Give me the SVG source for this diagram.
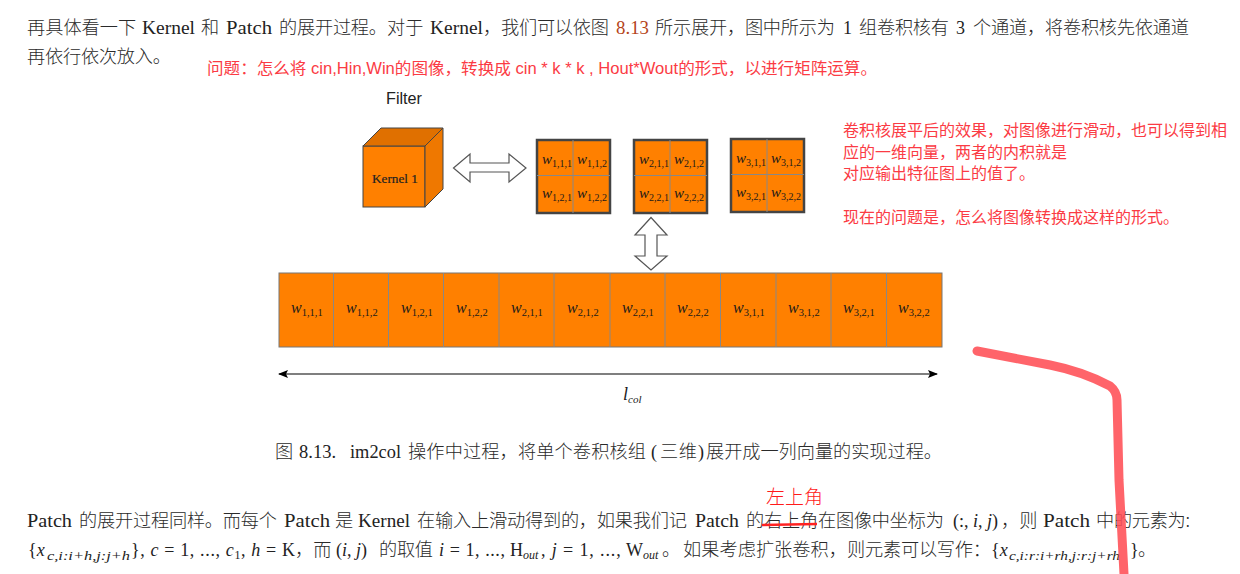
<svg xmlns="http://www.w3.org/2000/svg" width="1240" height="574" viewBox="0 0 1240 574">
<defs>
<marker id="ah" viewBox="0 0 10 8" refX="9" refY="4" markerWidth="10" markerHeight="8" orient="auto-start-reverse" markerUnits="userSpaceOnUse"><path d="M0 0L10 4L0 8L2 4Z" fill="#000"/></marker>
</defs>
<style>
text{white-space:pre}
.b{font-family:"Liberation Serif","Noto Sans CJK SC",serif;font-size:18px;fill:#222}
.c{font-family:"Noto Sans CJK SC",sans-serif;font-size:18.200px;fill:#2a2a2a;font-weight:300}
.i{font-style:italic}
.s{font-size:12px}
.r{font-family:"Liberation Sans","Noto Sans CJK SC",sans-serif;font-size:16px;fill:#fb3b44}
.o{fill:#ff8000;stroke:#777;stroke-width:1}
.g{stroke:#888;stroke-width:1;fill:none}
.m{fill:#ff8000;stroke:#444;stroke-width:2.500}
.w{font-family:"Liberation Serif",serif;fill:#1a1a1a}
.wi{font-size:16px;font-style:italic}
.ws{font-size:10.500px}
.n .wi{font-size:15px}
.n .ws{font-size:10px}
.ar{fill:#fff;stroke:#555;stroke-width:1.200}
</style>
<g id="body-top">
<text class="c" x="27" y="34">再具体看一下</text><text class="b" x="142" y="34" textLength="53" lengthAdjust="spacingAndGlyphs">Kernel</text><text class="c" x="201" y="34">和</text><text class="b" x="226" y="34" textLength="46" lengthAdjust="spacingAndGlyphs">Patch</text><text class="c" x="279" y="34" textLength="108">的展开过程。</text><text class="c" x="387" y="34">对于</text><text class="b" x="430" y="34" textLength="53" lengthAdjust="spacingAndGlyphs">Kernel</text><text class="c" x="483" y="34" textLength="126">，我们可以依图</text><text class="b" x="616" y="34" textLength="33" lengthAdjust="spacingAndGlyphs" style="fill:#b5451b">8.13</text><text class="c" x="655" y="34" textLength="180">所示展开，图中所示为</text><text class="b" x="843" y="34">1</text><text class="c" x="859" y="34" textLength="90">组卷积核有</text><text class="b" x="956" y="34">3</text><text class="c" x="973" y="34" textLength="216">个通道，将卷积核先依通道</text>
<text class="c" x="27" y="63" textLength="144">再依行依次放入。</text>
</g>
<g id="note-top"><text class="r" x="207" y="74" textLength="670" lengthAdjust="spacingAndGlyphs">问题：怎么将 cin,Hin,Win的图像，转换成 cin * k * k , Hout*Wout的形式，以进行矩阵运算。</text></g>
<g id="filter-label"><text x="386" y="104" font-family="Liberation Sans,sans-serif" font-size="16" fill="#222" textLength="36" lengthAdjust="spacingAndGlyphs">Filter</text></g>
<g id="kernel-cube">
<rect class="o" x="363" y="146" width="62" height="61" style="stroke:#444"/>
<path d="M363 146L381 128H443L425 146Z" fill="#e07000" stroke="#444"/>
<path d="M425 146L443 128V189L425 207Z" fill="#ef7800" stroke="#444"/>
<text x="372" y="183" font-family="Liberation Serif,serif" font-size="13.500" fill="#222" textLength="46" lengthAdjust="spacingAndGlyphs" stroke="#222" stroke-width=".2">Kernel 1</text>
</g>
<g id="matrix-1" class="n"><rect class="m" x="537" y="140" width="73" height="73"/><path class="g" d="M573 140V213M537 175.500H610"/>
<text class="w" x="542" y="164"><tspan class="wi">w</tspan><tspan class="ws" dy="3">1,1,1</tspan></text><text class="w" x="577" y="164"><tspan class="wi">w</tspan><tspan class="ws" dy="3">1,1,2</tspan></text><text class="w" x="542" y="198"><tspan class="wi">w</tspan><tspan class="ws" dy="3">1,2,1</tspan></text><text class="w" x="577" y="198"><tspan class="wi">w</tspan><tspan class="ws" dy="3">1,2,2</tspan></text></g>
<g id="matrix-2" class="n"><rect class="m" x="634" y="140" width="73" height="73"/><path class="g" d="M670 140V213M634 175.500H707"/>
<text class="w" x="639" y="164"><tspan class="wi">w</tspan><tspan class="ws" dy="3">2,1,1</tspan></text><text class="w" x="674" y="164"><tspan class="wi">w</tspan><tspan class="ws" dy="3">2,1,2</tspan></text><text class="w" x="639" y="198"><tspan class="wi">w</tspan><tspan class="ws" dy="3">2,2,1</tspan></text><text class="w" x="674" y="198"><tspan class="wi">w</tspan><tspan class="ws" dy="3">2,2,2</tspan></text></g>
<g id="matrix-3" class="n"><rect class="m" x="731" y="139" width="73" height="73"/><path class="g" d="M767 139V212M731 174.500H804"/>
<text class="w" x="736" y="163"><tspan class="wi">w</tspan><tspan class="ws" dy="3">3,1,1</tspan></text><text class="w" x="771" y="163"><tspan class="wi">w</tspan><tspan class="ws" dy="3">3,1,2</tspan></text><text class="w" x="736" y="197"><tspan class="wi">w</tspan><tspan class="ws" dy="3">3,2,1</tspan></text><text class="w" x="771" y="197"><tspan class="wi">w</tspan><tspan class="ws" dy="3">3,2,2</tspan></text></g>
<g id="vector-bar">
<rect class="o" x="279" y="273" width="663" height="74"/>
<path class="g" d="M333.500 273V347M388.500 273V347M443.500 273V347M499 273V347M554 273V347M610 273V347M665 273V347M720.500 273V347M776 273V347M831 273V347M886.500 273V347"/>
<g class="w">
<text x="291" y="313"><tspan class="wi">w</tspan><tspan class="ws" dy="3">1,1,1</tspan></text>
<text x="346" y="313"><tspan class="wi">w</tspan><tspan class="ws" dy="3">1,1,2</tspan></text>
<text x="401" y="313"><tspan class="wi">w</tspan><tspan class="ws" dy="3">1,2,1</tspan></text>
<text x="456" y="313"><tspan class="wi">w</tspan><tspan class="ws" dy="3">1,2,2</tspan></text>
<text x="511" y="313"><tspan class="wi">w</tspan><tspan class="ws" dy="3">2,1,1</tspan></text>
<text x="567" y="313"><tspan class="wi">w</tspan><tspan class="ws" dy="3">2,1,2</tspan></text>
<text x="622" y="313"><tspan class="wi">w</tspan><tspan class="ws" dy="3">2,2,1</tspan></text>
<text x="677" y="313"><tspan class="wi">w</tspan><tspan class="ws" dy="3">2,2,2</tspan></text>
<text x="733" y="313"><tspan class="wi">w</tspan><tspan class="ws" dy="3">3,1,1</tspan></text>
<text x="788" y="313"><tspan class="wi">w</tspan><tspan class="ws" dy="3">3,1,2</tspan></text>
<text x="843" y="313"><tspan class="wi">w</tspan><tspan class="ws" dy="3">3,2,1</tspan></text>
<text x="898" y="313"><tspan class="wi">w</tspan><tspan class="ws" dy="3">3,2,2</tspan></text>
</g>
</g>
<g id="connectors">
<path class="ar" d="M453.500 168L470 154V163H509V154L526 168L509 182V172H470V182Z"/>
<path class="ar" d="M651 217.500L667 235H657V256H667L651 270L635 256H645V235H635Z"/>
<path d="M279 374H937" stroke="#000" stroke-width="1.200" fill="none" marker-start="url(#ah)" marker-end="url(#ah)"/>
</g>
<g id="lcol-label"><text class="w" x="623" y="400" font-size="18" font-style="italic">l</text><text class="w" x="628" y="403" font-size="11" font-style="italic">col</text></g>
<g id="note-right">
<text class="r" x="843" y="136">卷积核展平后的效果，对图像进行滑动，也可以得到相</text>
<text class="r" x="843" y="158">应的一维向量，两者的内积就是</text>
<text class="r" x="843" y="179">对应输出特征图上的值了。</text>
<text class="r" x="843" y="223">现在的问题是，怎么将图像转换成这样的形式。</text>
</g>
<g id="caption">
<text class="c" x="275" y="458">图</text><text class="b" x="299" y="458" textLength="37" lengthAdjust="spacingAndGlyphs">8.13.</text><text class="b" x="350" y="458" textLength="51" lengthAdjust="spacingAndGlyphs">im2col</text><text class="c" x="408" y="458" textLength="238">操作中过程，将单个卷积核组</text><text class="b" x="651" y="458">(</text><text class="c" x="660" y="458" textLength="37">三维</text><text class="b" x="698" y="458">)</text><text class="c" x="706" y="458" textLength="236">展开成一列向量的实现过程。</text>
</g>
<g id="body-bottom">
<text class="b" x="27" y="527" textLength="45" lengthAdjust="spacingAndGlyphs">Patch</text><text class="c" x="79" y="527" textLength="198">的展开过程同样。而每个</text><text class="b" x="284" y="527" textLength="46" lengthAdjust="spacingAndGlyphs">Patch</text><text class="c" x="335" y="527">是</text><text class="b" x="358" y="527" textLength="52" lengthAdjust="spacingAndGlyphs">Kernel</text><text class="c" x="417" y="527" textLength="270">在输入上滑动得到的，如果我们记</text><text class="b" x="695" y="527" textLength="44" lengthAdjust="spacingAndGlyphs">Patch</text><text class="c" x="746" y="527" textLength="198">的右上角在图像中坐标为</text><text class="b" x="953" y="527">(:, <tspan class="i">i</tspan>, <tspan class="i">j</tspan>)</text><text class="c" x="1001" y="527">，则</text><text class="b" x="1043" y="527" textLength="47" lengthAdjust="spacingAndGlyphs">Patch</text><text class="c" x="1096" y="527" textLength="94">中的元素为:</text>
<text class="b" x="28" y="556">{<tspan class="i">x</tspan></text><text class="b i s" x="47" y="560" textLength="83" lengthAdjust="spacingAndGlyphs">c,i:i+h,j:j+h</text><text class="b" x="131" y="556" textLength="164" lengthAdjust="spacing">}, <tspan class="i">c</tspan> = 1, ..., <tspan class="i">c</tspan><tspan class="s" dy="3">1</tspan><tspan dy="-3">, </tspan><tspan class="i">h</tspan> = K</text><text class="c" x="295" y="556">，而</text><text class="b" x="336" y="556">(<tspan class="i">i</tspan>, <tspan class="i">j</tspan>)</text><text class="c" x="379" y="556" textLength="54">的取值</text><text class="b" x="439" y="556" textLength="71" lengthAdjust="spacing"><tspan class="i">i</tspan> = 1, ..., </text><text class="b" x="510" y="556">H</text><text class="b i s" x="523" y="559">out</text><text class="b" x="541" y="556" textLength="85" lengthAdjust="spacing">, <tspan class="i">j</tspan> = 1, ..., </text><text class="b" x="626" y="556">W</text><text class="b i s" x="643" y="559">out</text><text class="c" x="662" y="556">。</text><text class="c" x="683" y="556" textLength="164">如果考虑扩张卷积，</text><text class="c" x="847" y="556" textLength="144">则元素可以写作：</text><text class="b" x="991" y="556">{<tspan class="i">x</tspan></text><text class="b i s" x="1009" y="560" textLength="111" lengthAdjust="spacingAndGlyphs">c,i:r:i+rh,j:r:j+rh</text><text class="b" x="1130" y="556">}</text><text class="c" x="1138" y="556">。</text>
</g>
<g id="handwriting">
<text x="766" y="504" font-family="Noto Sans CJK SC,sans-serif" font-size="19" font-weight="300" fill="#ff1a1a">左上角</text>
<path d="M762 525L817 524" stroke="#f22" stroke-width="2.500" fill="none"/>
<path d="M977 351L1050 365C1075 370 1095 378 1110 386C1115 390 1117 394 1117 400L1119 480L1124 574" stroke="#ff4f55" stroke-width="9" fill="none" stroke-linecap="round" stroke-linejoin="round" stroke-opacity=".88"/>
</g>
</svg>
